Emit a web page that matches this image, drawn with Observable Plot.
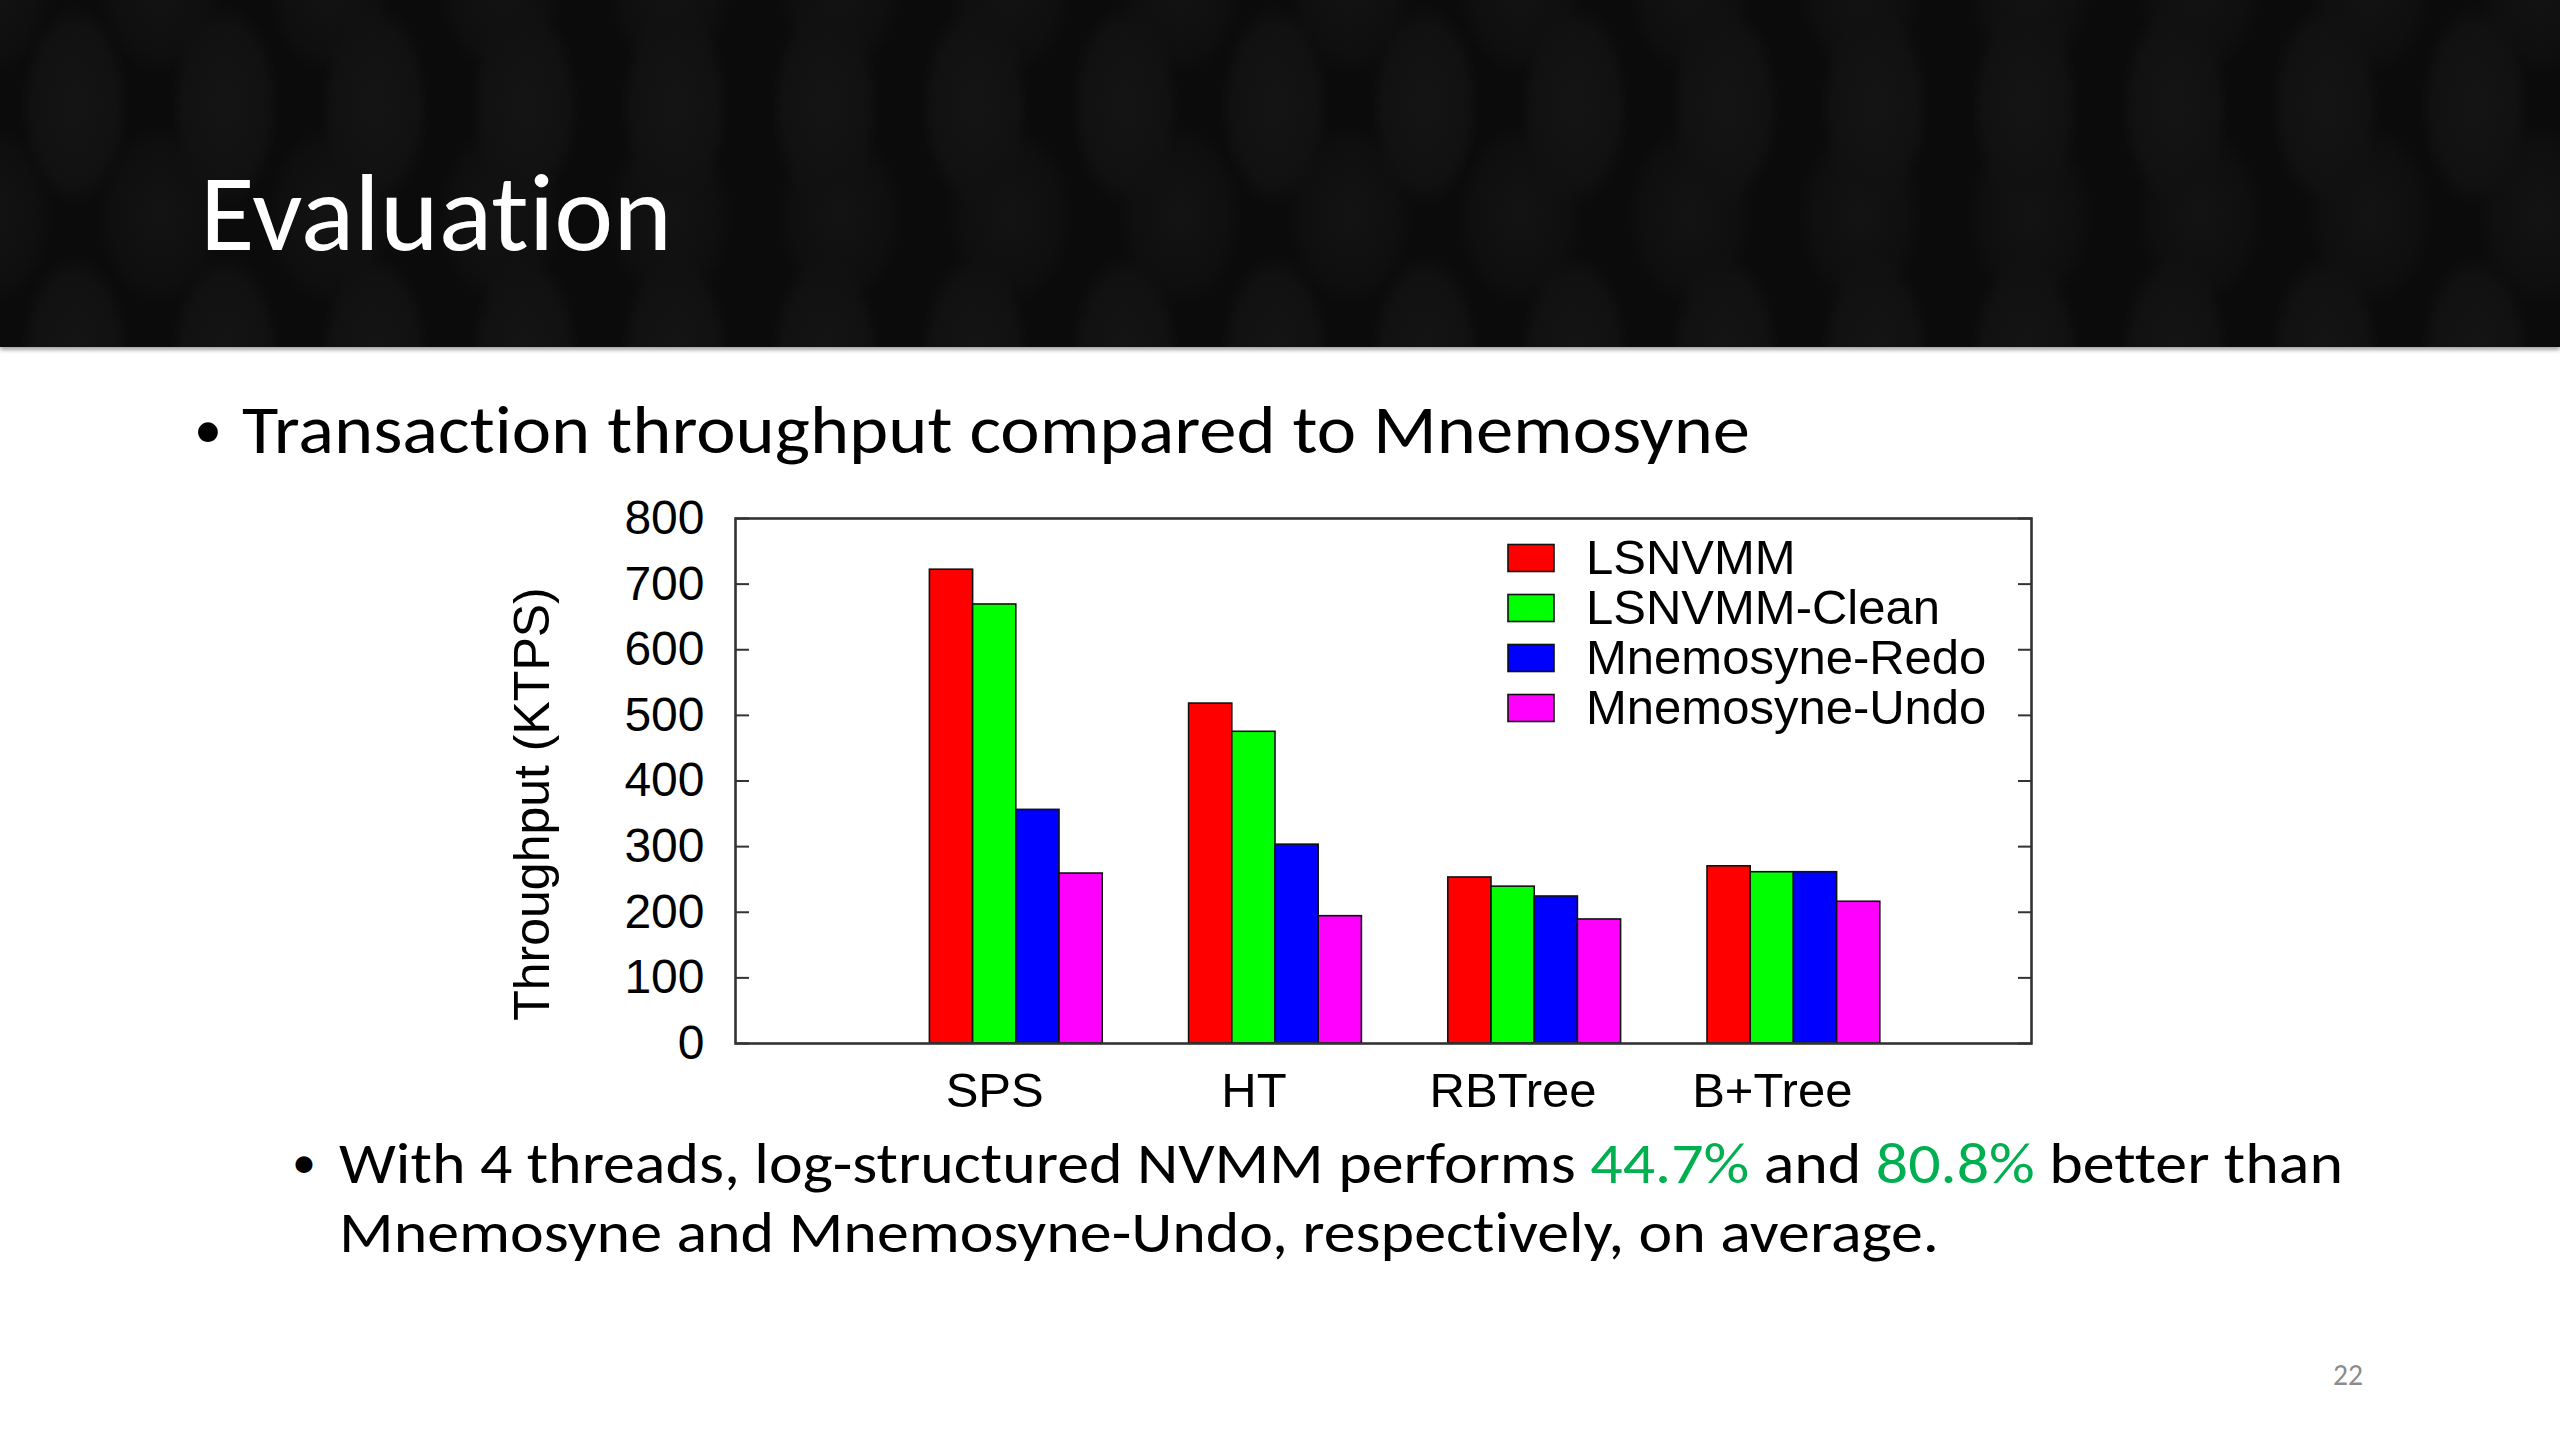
<!DOCTYPE html>
<html>
<head>
<meta charset="utf-8">
<script src="https://cdn.jsdelivr.net/npm/d3@7"></script>
<script src="https://cdn.jsdelivr.net/npm/@observablehq/plot@0.6"></script>
<style>
  html, body { margin: 0; padding: 0; width: 2560px; height: 1440px; overflow: hidden; background: #fff; }
  #slide { position: relative; width: 2560px; height: 1440px; background: #fff; }
  #header {
    position: absolute; left: 0; top: 0; width: 2560px; height: 347px;
    background-color: #0c0b0b;
    background-image:
      radial-gradient(ellipse 70px 130px at 50% 50%, #151414 0%, #121111 60%, rgba(0,0,0,0) 78%),
      radial-gradient(ellipse 80px 115px at 50% 50%, #141313 0%, #100f0f 60%, rgba(0,0,0,0) 78%);
    background-size: 150px 250px, 170px 230px;
    background-position: 0 -20px, 75px 100px;
    box-shadow: 0 3px 4px rgba(0,0,0,0.35);
  }
  #chart { position: absolute; left: 460px; top: 480px; }
  #deco { position: absolute; left: 0; top: 0; }
  #deco text { font-variant-ligatures: none; font-feature-settings: "liga" 0, "clig" 0; }
</style>
</head>
<body>
<div id="slide">
  <div id="header"></div>
  <div id="chart"></div>
  <svg id="deco" width="2560" height="1440"></svg>
</div>
<script>
// ---------------- data ----------------
const categories = ["SPS", "HT", "RBTree", "B+Tree"];
const series = ["LSNVMM", "LSNVMM-Clean", "Mnemosyne-Redo", "Mnemosyne-Undo"];
const seriesColors = ["#ff0000", "#00ff00", "#0000ff", "#ff00ff"];
const lsnvmm        = [722, 518, 253, 270];
const lsnvmmClean   = [669, 475, 239, 261];
const mnemosyneRedo = [356, 303, 224, 261];
const mnemosyneUndo = [259, 194, 189, 216];
const yTicks = [0, 100, 200, 300, 400, 500, 600, 700, 800];
const yLabel = "Throughput (KTPS)";
const titleText = "Evaluation";
const bullet1 = "Transaction throughput compared to Mnemosyne";
const bullet2a = ["With 4 threads, log-structured NVMM performs ", "44.7%", " and ", "80.8%", " better than"];
const bullet2b = "Mnemosyne and Mnemosyne-Undo, respectively, on average.";
const pageNumber = "22";

// ---------------- table ----------------
const valuesBySeries = [lsnvmm, lsnvmmClean, mnemosyneRedo, mnemosyneUndo];
const rows = [];
categories.forEach((c, ci) => {
  series.forEach((s, si) => {
    rows.push({category: c, ci, series: s, si, value: valuesBySeries[si][ci]});
  });
});

// cluster layout (gnuplot-style histogram): bar width and cluster start, in x units
const barW = 1 / 6;
const groupStart = -0.25;

const chart = Plot.plot({
  width: 1611,
  height: 643,
  marginLeft: 275,
  marginRight: 40,
  marginTop: 38,
  marginBottom: 80,
  style: {fontFamily: "'Liberation Sans', Arial, Helvetica, sans-serif", color: "#000", background: "transparent", overflow: "visible"},
  x: {type: "linear", domain: [-1, 4]},
  y: {domain: [0, 800]},
  color: {domain: series, range: seriesColors},
  marks: [
    Plot.rect(rows, {
      x1: d => d.ci + groupStart + d.si * barW,
      x2: d => d.ci + groupStart + (d.si + 1) * barW,
      y1: 0,
      y2: "value",
      fill: "series",
      stroke: "#111",
      strokeWidth: 1.6
    }),
    Plot.frame({stroke: "#333", strokeWidth: 2.6}),
    // inward ticks on left and right
    Plot.axisY({anchor: "left", ticks: yTicks, tickSize: 14, dx: 14, fill: "none", tickFormat: () => "", label: null, stroke: "#333", strokeWidth: 2}),
    Plot.axisY({anchor: "right", ticks: yTicks, tickSize: 14, dx: -14, fill: "none", tickFormat: () => "", label: null, stroke: "#333", strokeWidth: 2}),
    // tick labels
    Plot.axisY({anchor: "left", ticks: yTicks, tickSize: 0, tickPadding: 31, fontSize: 48, label: null}),
    Plot.axisX({ticks: [0, 1, 2, 3], tickFormat: i => categories[i], tickSize: 0, tickPadding: 29, fontSize: 49, label: null}),
    Plot.text([yLabel], {frameAnchor: "left", rotate: -90, dx: -203, dy: 23, fontSize: 50, lineAnchor: "middle", textAnchor: "middle"})
  ]
});
document.getElementById("chart").appendChild(chart);

// ---------------- slide text and legend ----------------
const deco = d3.select("#deco");
const bodyFont = "Carlito, Calibri, Lato, 'Open Sans', sans-serif";

deco.append("text").attr("x", 200).attr("y", 250)
  .attr("font-family", bodyFont).attr("font-size", 109).attr("fill", "#fff")
  .attr("textLength", 472).attr("lengthAdjust", "spacingAndGlyphs").text(titleText);

deco.append("text").attr("x", 208).attr("y", 448).attr("text-anchor", "middle")
  .attr("font-family", bodyFont).attr("font-size", 56).attr("fill", "#000").text("•");
deco.append("text").attr("x", 242).attr("y", 453)
  .attr("font-family", bodyFont).attr("font-size", 67).attr("fill", "#000")
  .attr("textLength", 1508).attr("lengthAdjust", "spacingAndGlyphs").text(bullet1);

deco.append("text").attr("x", 304).attr("y", 1178).attr("text-anchor", "middle")
  .attr("font-family", bodyFont).attr("font-size", 48).attr("fill", "#000").text("•");
const l1 = deco.append("text").attr("x", 339).attr("y", 1183)
  .attr("font-family", bodyFont).attr("font-size", 57).attr("fill", "#000")
  .attr("textLength", 2004).attr("lengthAdjust", "spacingAndGlyphs");
bullet2a.forEach((seg, i) => {
  l1.append("tspan").attr("fill", i === 1 || i === 3 ? "#00b050" : "#000").text(seg);
});
deco.append("text").attr("x", 339).attr("y", 1252)
  .attr("font-family", bodyFont).attr("font-size", 57).attr("fill", "#000")
  .attr("textLength", 1600).attr("lengthAdjust", "spacingAndGlyphs").text(bullet2b);

deco.append("text").attr("x", 2333).attr("y", 1385)
  .attr("font-family", bodyFont).attr("font-size", 31).attr("fill", "#8c8c8c")
  .attr("textLength", 30).attr("lengthAdjust", "spacingAndGlyphs").text(pageNumber);

// legend (inside plot frame, top right)
const lg = deco.append("g");
series.forEach((s, i) => {
  const cy = 558 + i * 50;
  lg.append("rect").attr("x", 1508).attr("y", cy - 13.5).attr("width", 46).attr("height", 27)
    .attr("fill", seriesColors[i]).attr("stroke", "#111").attr("stroke-width", 1.6);
  lg.append("text").attr("x", 1586).attr("y", cy + 16)
    .attr("font-family", "'Liberation Sans', Arial, Helvetica, sans-serif").attr("font-size", 49)
    .attr("fill", "#000").text(s);
});
</script>
</body>
</html>
